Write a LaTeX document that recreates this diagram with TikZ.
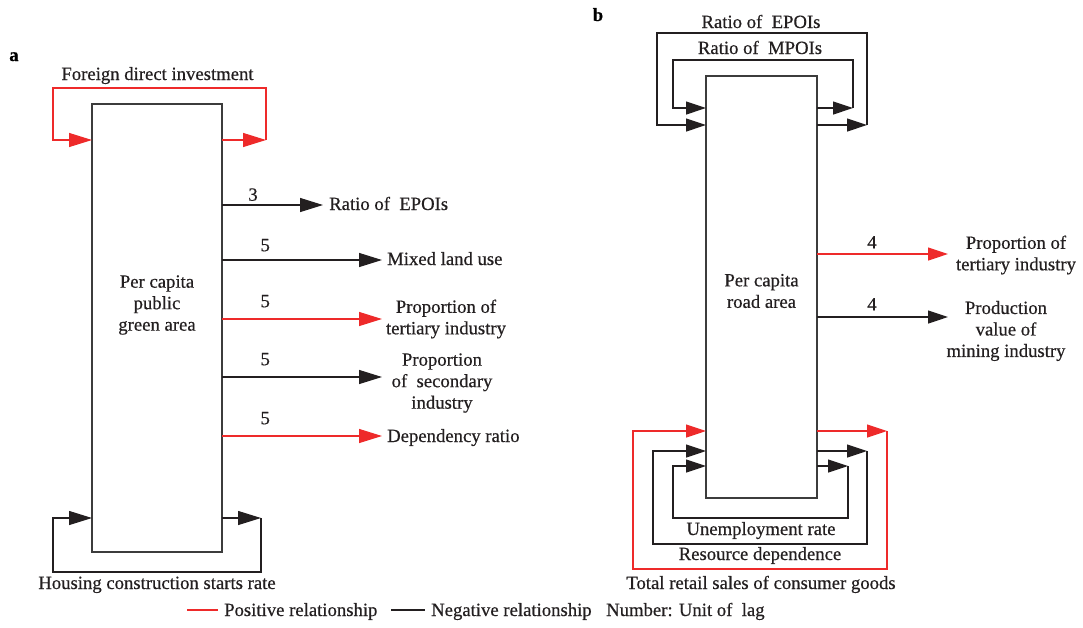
\documentclass[tikz,border=0pt]{standalone}
\usepackage{fontspec}
\setmainfont{Liberation Serif}[FakeBold=0.5]
\usetikzlibrary{arrows.meta}
\definecolor{posred}{HTML}{EE2A2A}
\definecolor{negblk}{HTML}{231F20}
\definecolor{boxgray}{HTML}{3C3C3C}
\newcommand{\fs}{\fontsize{18.7}{21.5}\selectfont}
\begin{document}
\begin{tikzpicture}[x=1pt,y=-1pt,
  box/.style={draw=boxgray, line width=1.3pt, outer sep=0pt, inner sep=0pt, font=\fs, align=center},
  txt/.style={font=\fs, align=center, inner sep=0pt, text=negblk},
  bl/.style={txt, anchor=base},
  lag/.style={font=\fs, inner sep=0pt, text=negblk},
  posl/.style={draw=posred, line width=1.2pt},
  negl/.style={draw=negblk, line width=1.2pt},
  bigtip/.style={-{Triangle[length=23pt,width=14pt]}},
  smtip/.style={-{Triangle[length=20pt,width=13pt]}},
]
\useasboundingbox (0,0) rectangle (1083,627);

% ---------- panel a ----------
\node[font=\fs\bfseries, inner sep=0pt, anchor=base] (pa) at (14,61) {a};
\node[box, minimum width=130pt, minimum height=448pt] (A) at (157,328) {};
\node[txt] (Atxt) at (157,305) {Per capita\\public\\green area};

% outgoing effects
\coordinate (ta1) at (323,205);
\coordinate (ta2) at (382,260);
\coordinate (ta3) at (382,319);
\coordinate (ta4) at (382,377);
\coordinate (ta5) at (382,436);
\node[bl, anchor=base west] (oa1) at (329,210) {Ratio of~ EPOIs};
\node[bl, anchor=base west] (oa2) at (387,265) {Mixed land use};
\node[txt] (oa3) at (446,319) {Proportion of\\tertiary industry};
\node[txt] (oa4) at (442,383) {Proportion\\of~ secondary\\industry};
\node[bl, anchor=base west] (oa5) at (387,442) {Dependency ratio};

\draw[negl, bigtip] (A.east |- ta1) -- node[lag, pos=0.307, above=3.5pt] {3} (ta1);
\draw[negl, bigtip] (A.east |- ta2) -- node[lag, pos=0.27, above=8pt] {5} (ta2);
\draw[posl, bigtip] (A.east |- ta3) -- node[lag, pos=0.27, above=11pt] {5} (ta3);
\draw[negl, bigtip] (A.east |- ta4) -- node[lag, pos=0.27, above=11pt] {5} (ta4);
\draw[posl, bigtip] (A.east |- ta5) -- node[lag, pos=0.27, above=11pt] {5} (ta5);

% foreign direct investment loop
\coordinate (fR) at (266,140);
\coordinate (fL) at (53,140);
\coordinate (fT) at (157,88);
\node[bl] (fdi) at (157.5,80) {Foreign direct investment};
\draw[posl, bigtip] (A.east |- fR) -- (fR);
\draw[posl, bigtip] (fR) |- (fT) -| (fL) -- (A.west |- fL);

% housing construction loop
\coordinate (hR) at (261,518);
\coordinate (hL) at (53,518);
\coordinate (hB) at (157,572);
\node[bl] (hcs) at (157,589) {Housing construction starts rate};
\draw[negl, bigtip] (A.east |- hR) -- (hR);
\draw[negl, bigtip] (hR) |- (hB) -| (hL) -- (A.west |- hL);

% ---------- panel b ----------
\node[font=\fs\bfseries, inner sep=0pt, anchor=base] (pb) at (598,21) {b};
\node[box, minimum width=111pt, minimum height=422pt] (B) at (761.5,287) {};
\node[txt] (Btxt) at (761.5,291) {Per capita\\road area};

% outgoing effects
\coordinate (tb1) at (948,254);
\coordinate (tb2) at (948,317);
\node[txt] (ob1) at (1016,255) {Proportion of\\tertiary industry};
\node[txt] (ob2) at (1006,331) {Production\\value of\\mining industry};
\draw[posl, smtip] (B.east |- tb1) -- node[lag, pos=0.42, above=5pt] {4} (tb1);
\draw[negl, smtip] (B.east |- tb2) -- node[lag, pos=0.42, above=6pt] {4} (tb2);

% upper loops
\coordinate (eR) at (867,125);
\coordinate (eL) at (657,125);
\coordinate (eT) at (761,33);
\coordinate (mR) at (853,108);
\coordinate (mL) at (673,108);
\coordinate (mT) at (761,60);
\node[bl] (epoi) at (761,28) {Ratio of~ EPOIs};
\node[bl] (mpoi) at (760,54) {Ratio of~ MPOIs};
\draw[negl, smtip] (B.east |- eR) -- (eR);
\draw[negl, smtip] (eR) |- (eT) -| (eL) -- (B.west |- eL);
\draw[negl, smtip] (B.east |- mR) -- (mR);
\draw[negl, smtip] (mR) |- (mT) -| (mL) -- (B.west |- mL);

% lower loops
\coordinate (rR) at (887,431);
\coordinate (rL) at (633,431);
\coordinate (rB) at (761,569);
\coordinate (dR) at (867,451);
\coordinate (dL) at (653,451);
\coordinate (dB) at (761,544);
\coordinate (uR) at (848,466);
\coordinate (uL) at (673,466);
\coordinate (uB) at (761,518);
\node[bl] (unemp) at (761,535) {Unemployment rate};
\node[bl] (resdep) at (760,560) {Resource dependence};
\node[bl] (retail) at (761,589) {Total retail sales of consumer goods};
\draw[posl, smtip] (B.east |- rR) -- (rR);
\draw[posl, smtip] (rR) |- (rB) -| (rL) -- (B.west |- rL);
\draw[negl, smtip] (B.east |- dR) -- (dR);
\draw[negl, smtip] (dR) |- (dB) -| (dL) -- (B.west |- dL);
\draw[negl, smtip] (B.east |- uR) -- (uR);
\draw[negl, smtip] (uR) |- (uB) -| (uL) -- (B.west |- uL);

% ---------- legend ----------
\coordinate (k1a) at (187,610);
\coordinate (k1b) at (218,610);
\coordinate (k2a) at (391,610);
\coordinate (k2b) at (425,610);
\node[bl, anchor=base west] (kpos) at (224,616) {Positive relationship};
\node[bl, anchor=base west] (kneg) at (431,616) {Negative relationship};
\node[bl, anchor=base west] (klag) at (606,616) {Number: Unit of~ lag};
\draw[posl] (k1a) -- (k1b);
\draw[negl] (k2a) -- (k2b);
\end{tikzpicture}
\end{document}
